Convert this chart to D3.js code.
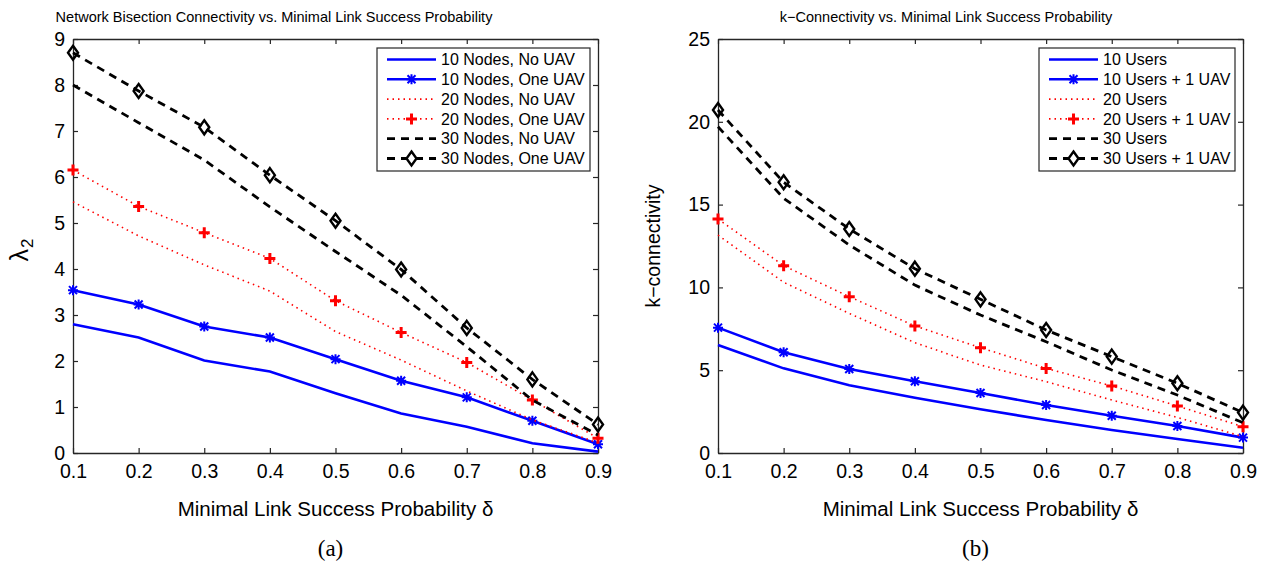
<!DOCTYPE html>
<html>
<head>
<meta charset="utf-8">
<script src="https://cdn.jsdelivr.net/npm/d3@7"></script>
<style>
  body { margin: 0; background: #fff; }
  text { font-family: "Liberation Sans", Arial, sans-serif; fill: #000; }
  .caption { font-family: "Liberation Serif", "Times New Roman", serif; }
</style>
</head>
<body>
<div id="chart"></div>
<script>
// x values shared by both panels
const delta = [0.1, 0.2, 0.3, 0.4, 0.5, 0.6, 0.7, 0.8, 0.9];

// panel (a): lambda_2
const a10 = [2.80, 2.51, 2.01, 1.77, 1.30, 0.86, 0.57, 0.21, 0.03];
const a10uav = [3.54, 3.23, 2.75, 2.51, 2.04, 1.57, 1.21, 0.70, 0.19];
const a20 = [5.46, 4.72, 4.09, 3.52, 2.64, 2.02, 1.35, 0.72, 0.22];
const a20uav = [6.15, 5.36, 4.79, 4.23, 3.31, 2.62, 1.97, 1.15, 0.32];
const a30 = [8.00, 7.18, 6.37, 5.35, 4.38, 3.43, 2.31, 1.15, 0.39];
const a30uav = [8.70, 7.87, 7.08, 6.04, 5.05, 3.99, 2.72, 1.60, 0.62];

// panel (b): k-connectivity
const b10 = [6.52, 5.11, 4.09, 3.34, 2.64, 1.99, 1.39, 0.85, 0.32];
const b10uav = [7.57, 6.08, 5.07, 4.33, 3.62, 2.90, 2.25, 1.63, 0.93];
const b20 = [13.16, 10.31, 8.43, 6.66, 5.31, 4.31, 3.20, 2.15, 0.99];
const b20uav = [14.13, 11.31, 9.44, 7.67, 6.36, 5.11, 4.05, 2.84, 1.59];
const b30 = [19.70, 15.38, 12.56, 10.14, 8.33, 6.72, 5.01, 3.50, 1.83];
const b30uav = [20.71, 16.35, 13.53, 11.13, 9.28, 7.43, 5.82, 4.21, 2.44];

const xTicks = [0.1, 0.2, 0.3, 0.4, 0.5, 0.6, 0.7, 0.8, 0.9];
const aYTicks = [0, 1, 2, 3, 4, 5, 6, 7, 8, 9];
const bYTicks = [0, 5, 10, 15, 20, 25];

const aNames = ["10 Nodes, No UAV", "10 Nodes, One UAV", "20 Nodes, No UAV",
                "20 Nodes, One UAV", "30 Nodes, No UAV", "30 Nodes, One UAV"];
const bNames = ["10 Users", "10 Users + 1 UAV", "20 Users",
                "20 Users + 1 UAV", "30 Users", "30 Users + 1 UAV"];

// line style for each series index
const styles = [
  { color: "#0000ff", width: 2.6, dash: null, marker: null },
  { color: "#0000ff", width: 2.6, dash: null, marker: "star" },
  { color: "#ff0000", width: 1.6, dash: "1.5 4", marker: null },
  { color: "#ff0000", width: 1.6, dash: "1.5 4", marker: "plus" },
  { color: "#000000", width: 2.8, dash: "8 6", marker: null },
  { color: "#000000", width: 2.8, dash: "8 6", marker: "diamond" }
];

const W = 1267, H = 561;
const svg = d3.select("#chart").append("svg")
  .attr("width", W).attr("height", H);

function markerPath(type) {
  if (type === "star") return "M-5,0H5M0,-5V5M-4,-4L4,4M-4,4L4,-4";
  if (type === "plus") return "M-5.5,0H5.5M0,-5.5V5.5";
  if (type === "diamond") return "M0,-7L5,0L0,7L-5,0Z";
  return "";
}
function markerWidth(type) {
  if (type === "star") return 2;
  if (type === "plus") return 3;
  return 2.4;
}

function drawPanel(opt) {
  const x = d3.scaleLinear().domain([0.1, 0.9]).range([opt.left, opt.right]);
  const y = d3.scaleLinear().domain(opt.yDomain).range([453, 39]);
  const g = svg.append("g");

  // axes box with inward ticks on all sides
  g.append("g").attr("transform", "translate(0,453)")
    .call(d3.axisBottom(x).tickValues(xTicks).tickSizeInner(-5).tickSizeOuter(0).tickPadding(11).tickFormat(d3.format(".1f")));
  g.append("g").attr("transform", "translate(0,39)")
    .call(d3.axisTop(x).tickValues(xTicks).tickSizeInner(-5).tickSizeOuter(0).tickFormat(""));
  g.append("g").attr("transform", `translate(${opt.left},0)`)
    .call(d3.axisLeft(y).tickValues(opt.yTicks).tickSizeInner(-5).tickSizeOuter(0).tickPadding(8));
  g.append("g").attr("transform", `translate(${opt.right},0)`)
    .call(d3.axisRight(y).tickValues(opt.yTicks).tickSizeInner(-5).tickSizeOuter(0).tickFormat(""));
  g.selectAll(".domain").attr("stroke", "#262626").attr("stroke-width", 1.3);
  g.selectAll(".tick line").attr("stroke", "#262626").attr("stroke-width", 1.2);
  g.selectAll(".tick text").style("font-size", "19.5px").attr("fill", "#000");

  const line = d3.line().x((d, i) => x(delta[i])).y(d => y(d));

  opt.series.forEach((s, k) => {
    const st = styles[k];
    g.append("path").datum(s)
      .attr("d", line)
      .attr("fill", "none")
      .attr("stroke", st.color)
      .attr("stroke-width", st.width)
      .attr("stroke-dasharray", st.dash);
    if (st.marker) {
      g.selectAll(null).data(s).enter().append("path")
        .attr("transform", (d, i) => `translate(${x(delta[i])},${y(d)})`)
        .attr("d", markerPath(st.marker))
        .attr("fill", "none")
        .attr("stroke", st.color)
        .attr("stroke-width", markerWidth(st.marker));
    }
  });

  // legend
  const lg = g.append("g");
  lg.append("rect")
    .attr("x", opt.legX).attr("y", 48)
    .attr("width", opt.legW).attr("height", 123)
    .attr("fill", "#fff").attr("stroke", "#262626").attr("stroke-width", 1.2);
  opt.names.forEach((n, k) => {
    const st = styles[k];
    const yy = 59.5 + k * 19.8;
    const x0 = opt.legX + 10, x1 = opt.legX + 59;
    lg.append("line")
      .attr("x1", x0).attr("x2", x1).attr("y1", yy).attr("y2", yy)
      .attr("stroke", st.color).attr("stroke-width", st.width)
      .attr("stroke-dasharray", st.dash);
    if (st.marker) {
      lg.append("path")
        .attr("transform", `translate(${(x0 + x1) / 2},${yy})`)
        .attr("d", markerPath(st.marker))
        .attr("fill", st.marker === "diamond" ? "#fff" : "none")
        .attr("stroke", st.color)
        .attr("stroke-width", markerWidth(st.marker));
    }
    lg.append("text")
      .attr("x", x1 + 5).attr("y", yy).attr("dy", "0.36em")
      .style("font-size", "16px").text(n);
  });

  // titles and labels
  g.append("text").attr("x", opt.titleX).attr("y", 22)
    .attr("text-anchor", "middle").style("font-size", "14.5px").text(opt.title);
  g.append("text")
    .attr("x", (opt.left + opt.right) / 2).attr("y", 516)
    .attr("text-anchor", "middle").style("font-size", "20.5px")
    .text("Minimal Link Success Probability δ");
  g.append("text").attr("class", "caption")
    .attr("x", (opt.left + opt.right) / 2 - 5).attr("y", 556)
    .attr("text-anchor", "middle").style("font-size", "23px").text(opt.caption);
  opt.yLabel(g);
}

drawPanel({
  left: 73, right: 598, yDomain: [0, 9], yTicks: aYTicks,
  series: [a10, a10uav, a20, a20uav, a30, a30uav],
  names: aNames, legX: 377, legW: 213,
  title: "Network Bisection Connectivity vs. Minimal Link Success Probability",
  titleX: 274, caption: "(a)",
  yLabel: g => {
    const t = g.append("text")
      .attr("transform", "translate(28,250) rotate(-90)")
      .attr("text-anchor", "middle").style("font-size", "25px");
    t.append("tspan").text("λ");
    t.append("tspan").attr("dy", "0.3em").attr("dx", "1").style("font-size", "17px").text("2");
  }
});

drawPanel({
  left: 718, right: 1243, yDomain: [0, 25], yTicks: bYTicks,
  series: [b10, b10uav, b20, b20uav, b30, b30uav],
  names: bNames, legX: 1039, legW: 196,
  title: "k−Connectivity vs. Minimal Link Success Probability",
  titleX: 946, caption: "(b)",
  yLabel: g => {
    g.append("text")
      .attr("transform", "translate(660,246) rotate(-90)")
      .attr("text-anchor", "middle").style("font-size", "19.5px")
      .text("k−connectivity");
  }
});
</script>
</body>
</html>
